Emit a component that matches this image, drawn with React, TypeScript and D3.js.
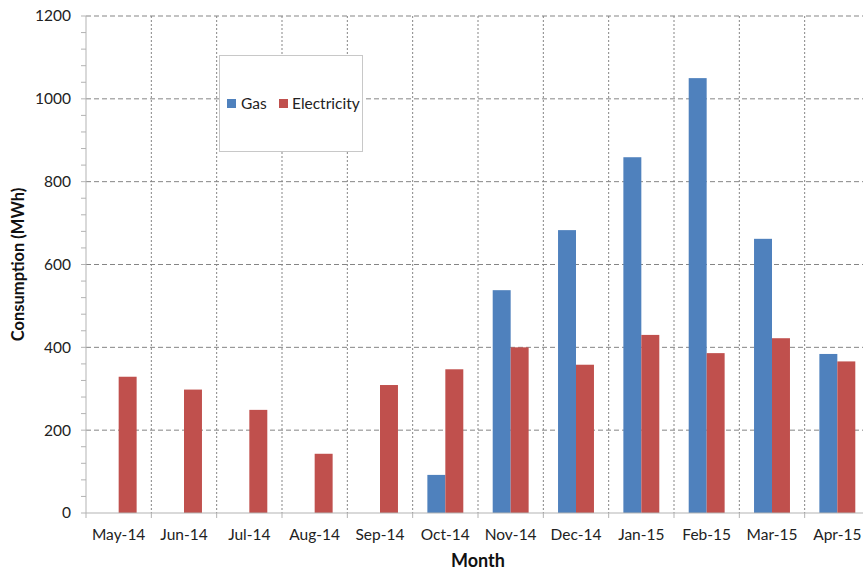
import React from 'react';
import * as d3 from 'd3';

const months = [
  'May-14', 'Jun-14', 'Jul-14', 'Aug-14', 'Sep-14', 'Oct-14',
  'Nov-14', 'Dec-14', 'Jan-15', 'Feb-15', 'Mar-15', 'Apr-15',
];
const gas = [0, 0, 0, 0, 0, 92, 538, 683, 859, 1050, 662, 384];
const electricity = [329, 298, 249, 143, 309, 347, 400, 358, 430, 386, 422, 366];
const yTicks = [0, 200, 400, 600, 800, 1000, 1200];
const seriesNames = ['Gas', 'Electricity'];
const seriesColors = ['#4F81BD', '#C0504D'];

const W = 863;
const H = 571;
const margin = { top: 16, left: 86, bottom: 58 };
const plotRight = 870;

export default function App() {
  const innerH = H - margin.top - margin.bottom;
  const x = d3.scaleBand<string>().domain(months).range([margin.left, plotRight]).paddingInner(0.45).paddingOuter(0.225);
  const step = x.step();
  const y = d3.scaleLinear().domain([0, 1200]).range([margin.top + innerH, margin.top]);
  const inner = d3.scaleBand<string>().domain(seriesNames).range([0, x.bandwidth()]);
  const minor = d3.range(0, 1201, 40);
  const boundaries = d3.range(months.length + 1).map((i) => margin.left + i * step);
  const font = 'Lato, "Open Sans", sans-serif';
  const y0 = y(0);

  return (
    <svg width={W} height={H} style={{ position: 'absolute', left: 0, top: 0, overflow: 'hidden' }}>
      <rect width={W} height={H} fill="#fff" />
      {/* horizontal grid */}
      {yTicks.filter((t) => t > 0).map((t) => (
        <line key={t} x1={margin.left} x2={plotRight} y1={y(t)} y2={y(t)} stroke="#858585" strokeWidth={1} strokeDasharray="5,3" />
      ))}
      {/* vertical grid */}
      {boundaries.slice(1).map((bx, i) => (
        <line key={i} x1={bx} x2={bx} y1={margin.top} y2={y0} stroke="#858585" strokeWidth={1} strokeDasharray="2,2" />
      ))}
      {/* bars */}
      {months.map((m, i) => (
        <g key={m}>
          {[gas[i], electricity[i]].map((v, s) =>
            v > 0 ? (
              <rect
                key={s}
                x={(x(m) as number) + (inner(seriesNames[s]) as number)}
                y={y(v)}
                width={inner.bandwidth()}
                height={y0 - y(v)}
                fill={seriesColors[s]}
              />
            ) : null
          )}
        </g>
      ))}
      {/* axes */}
      <line x1={margin.left} x2={margin.left} y1={margin.top} y2={y0} stroke="#b3b3b3" />
      <line x1={margin.left} x2={plotRight} y1={y0} y2={y0} stroke="#b3b3b3" />
      {minor.map((t) => (
        <line key={t} x1={margin.left - 5} x2={margin.left} y1={y(t)} y2={y(t)} stroke="#b3b3b3" />
      ))}
      {boundaries.map((bx, i) => (
        <line key={i} x1={bx} x2={bx} y1={y0} y2={y0 + 5} stroke="#b3b3b3" />
      ))}
      {yTicks.map((t) => (
        <text key={t} x={margin.left - 15} y={y(t)} dy="0.35em" textAnchor="end" fontFamily={font} fontSize={15.5} fill="#222">
          {t}
        </text>
      ))}
      {months.map((m) => (
        <text key={m} x={(x(m) as number) + x.bandwidth() / 2} y={y0 + 27} textAnchor="middle" fontFamily={font} fontSize={15.5} fill="#222">
          {m}
        </text>
      ))}
      <text x={margin.left + step * 6} y={H - 4} textAnchor="middle" fontFamily={font} fontSize={18} fontWeight="bold" fill="#111">
        Month
      </text>
      <text transform={`translate(24,${margin.top + innerH / 2}) rotate(-90)`} textAnchor="middle" fontFamily={font} fontSize={16.5} fontWeight="bold" fill="#111">
        Consumption (MWh)
      </text>
      {/* legend */}
      <rect x={219.5} y={55.5} width={143} height={96} fill="#fff" stroke="#c8c8c8" />
      <rect x={227} y={99} width={9} height={9} fill={seriesColors[0]} />
      <text x={241} y={104} dy="0.35em" fontFamily={font} fontSize={15.5} fill="#222">Gas</text>
      <rect x={279} y={99} width={9} height={9} fill={seriesColors[1]} />
      <text x={292} y={104} dy="0.35em" fontFamily={font} fontSize={15.5} fill="#222">Electricity</text>
    </svg>
  );
}
